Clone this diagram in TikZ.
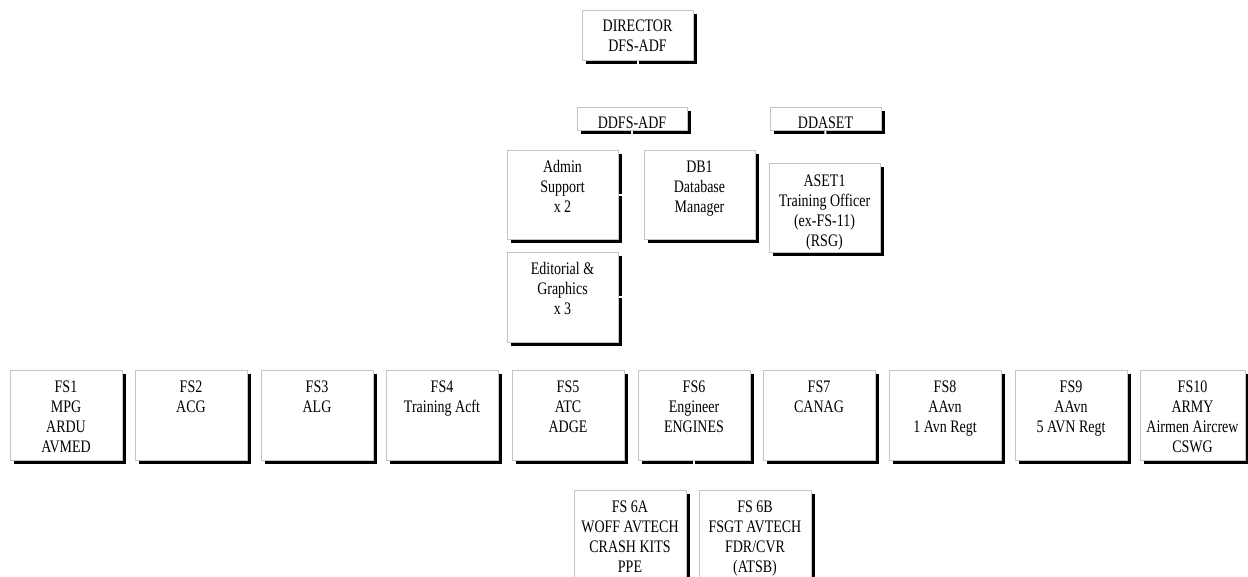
\documentclass[tikz,border=0pt]{standalone}
\usepackage{fontspec}
\setmainfont{Liberation Serif}[FakeStretch=0.795]
\usetikzlibrary{calc}
\definecolor{boxgray}{RGB}{196,196,196}
\pgfdeclarelayer{shadowlayer}
\pgfdeclarelayer{linklayer}
\pgfsetlayers{shadowlayer,linklayer,main}
\newcommand{\boxtxt}[1]{\parbox[t]{140pt}{\centering\fontsize{17.6}{20}\selectfont #1}}
\tikzset{
  orgbox/.style={draw=boxgray, fill=white, line width=1pt, inner sep=0pt, outer sep=0pt, anchor=north west},
  boxtext/.style={anchor=base, inner sep=0pt},
  link/.style={draw=white, line width=2pt}
}
\begin{document}
\begin{tikzpicture}[x=1pt, y=-1pt]
\useasboundingbox (0,0) rectangle (1248,576);
% boxes
\node[orgbox, minimum width=111pt, minimum height=50pt] (dir) at (582,10) {};
\node[orgbox, minimum width=110pt, minimum height=23pt] (ddfs) at (577,107) {};
\node[orgbox, minimum width=111pt, minimum height=23pt] (ddaset) at (770,107) {};
\node[orgbox, minimum width=111pt, minimum height=89pt] (admin) at (507,150) {};
\node[orgbox, minimum width=111pt, minimum height=89pt] (db1) at (644,150) {};
\node[orgbox, minimum width=111pt, minimum height=89pt] (aset) at (769,163) {};
\node[orgbox, minimum width=111pt, minimum height=90pt] (edit) at (507,252) {};
\node[orgbox, minimum width=112pt, minimum height=90pt] (fs1) at (10,370) {};
\node[orgbox, minimum width=112pt, minimum height=90pt] (fs2) at (135,370) {};
\node[orgbox, minimum width=112pt, minimum height=90pt] (fs3) at (261,370) {};
\node[orgbox, minimum width=112pt, minimum height=90pt] (fs4) at (386,370) {};
\node[orgbox, minimum width=112pt, minimum height=90pt] (fs5) at (512,370) {};
\node[orgbox, minimum width=112pt, minimum height=90pt] (fs6) at (638,370) {};
\node[orgbox, minimum width=112pt, minimum height=90pt] (fs7) at (763,370) {};
\node[orgbox, minimum width=112pt, minimum height=90pt] (fs8) at (889,370) {};
\node[orgbox, minimum width=112pt, minimum height=90pt] (fs9) at (1015,370) {};
\node[orgbox, minimum width=105pt, minimum height=90pt] (fs10) at (1140,370) {};
\node[orgbox, minimum width=112pt, minimum height=100pt] (fs6a) at (574,490) {};
\node[orgbox, minimum width=112pt, minimum height=100pt] (fs6b) at (699,490) {};
% texts
\node[boxtext] (dir-t) at ($(dir.north)+(0,21.5)$) {\boxtxt{DIRECTOR\\DFS-ADF}};
\node[boxtext] (ddfs-t) at ($(ddfs.north)+(0,21)$) {\boxtxt{DDFS-ADF}};
\node[boxtext] (ddaset-t) at ($(ddaset.north)+(0,21)$) {\boxtxt{DDASET}};
\node[boxtext] (admin-t) at ($(admin.north)+(0,22)$) {\boxtxt{Admin\\Support\\x 2}};
\node[boxtext] (db1-t) at ($(db1.north)+(0,22)$) {\boxtxt{DB1\\Database\\Manager}};
\node[boxtext] (aset-t) at ($(aset.north)+(0,23)$) {\boxtxt{ASET1\\Training Officer\\(ex-FS-11)\\(RSG)}};
\node[boxtext] (edit-t) at ($(edit.north)+(0,22)$) {\boxtxt{Editorial \&\\Graphics\\x 3}};
\node[boxtext] (fs1-t) at ($(fs1.north)+(0,22)$) {\boxtxt{FS1\\MPG\\ARDU\\AVMED}};
\node[boxtext] (fs2-t) at ($(fs2.north)+(0,22)$) {\boxtxt{FS2\\ACG}};
\node[boxtext] (fs3-t) at ($(fs3.north)+(0,22)$) {\boxtxt{FS3\\ALG}};
\node[boxtext] (fs4-t) at ($(fs4.north)+(0,22)$) {\boxtxt{FS4\\Training Acft}};
\node[boxtext] (fs5-t) at ($(fs5.north)+(0,22)$) {\boxtxt{FS5\\ATC\\ADGE}};
\node[boxtext] (fs6-t) at ($(fs6.north)+(0,22)$) {\boxtxt{FS6\\Engineer\\ENGINES}};
\node[boxtext] (fs7-t) at ($(fs7.north)+(0,22)$) {\boxtxt{FS7\\CANAG}};
\node[boxtext] (fs8-t) at ($(fs8.north)+(0,22)$) {\boxtxt{FS8\\AAvn\\1 Avn Regt}};
\node[boxtext] (fs9-t) at ($(fs9.north)+(0,22)$) {\boxtxt{FS9\\AAvn\\5 AVN Regt}};
\node[boxtext] (fs10-t) at ($(fs10.north)+(0,22)$) {\boxtxt{FS10\\ARMY\\Airmen Aircrew\\CSWG}};
\node[boxtext] (fs6a-t) at ($(fs6a.north)+(0,22)$) {\boxtxt{FS 6A\\WOFF AVTECH\\CRASH KITS\\PPE}};
\node[boxtext] (fs6b-t) at ($(fs6b.north)+(0,22)$) {\boxtxt{FS 6B\\FSGT AVTECH\\FDR/CVR\\(ATSB)}};
% shadows
\begin{pgfonlayer}{shadowlayer}
\foreach \n in {dir,ddfs,ddaset,admin,db1,aset,edit,fs1,fs2,fs3,fs4,fs5,fs6,fs7,fs8,fs9,fs10,fs6a,fs6b}
  \fill[black] ($(\n.north west)+(3.5,3.5)$) rectangle ($(\n.south east)+(3.5,3.5)$);
\end{pgfonlayer}
% white connectors (only visible as gaps in shadows)
\begin{pgfonlayer}{linklayer}
\coordinate (j1) at (637.5,85);
\coordinate (j2) at (632,297);
\coordinate (j3) at (694,476);
\draw[link] (dir.south) -- (j1) -| (ddfs.north);
\draw[link] (j1) -| (ddaset.north);
\draw[link] (ddfs.south) -- (j2);
\draw[link] (admin.east) -- (admin.east -| j2);
\draw[link] (edit.east) -- (edit.east -| j2);
\draw[link] (db1.west) -- (db1.west -| j2);
\draw[link] (ddaset.south) -- (aset.north);
\draw[link] (fs6.south) -- (j3);
\draw[link] (j3) -| (fs6a.north);
\draw[link] (j3) -| (fs6b.north);
\end{pgfonlayer}
\end{tikzpicture}
\end{document}
